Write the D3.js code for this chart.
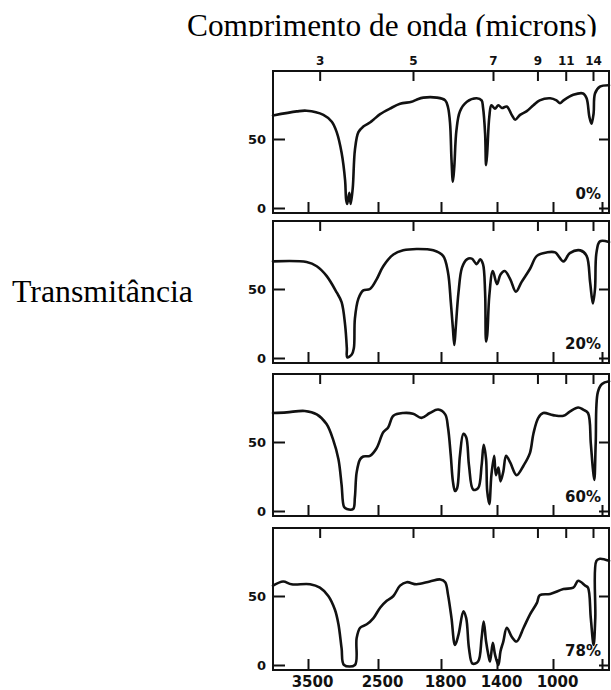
<!DOCTYPE html>
<html>
<head>
<meta charset="utf-8">
<script src="https://cdn.jsdelivr.net/npm/d3@7"></script>
<style>
  html, body { margin: 0; padding: 0; background: #fff; overflow: hidden; }
  svg { display: block; }
</style>
</head>
<body>
<svg id="chart" width="611" height="690"></svg>
<script>
// Infrared spectra recorded at four concentrations.
// Each point: [wavenumber in cm-1, transmittance in %].
const concentrationLabels = ["0%", "20%", "60%", "78%"];

const spectrum0 = [
  [4000,67],[3660,70],[3520,70.5],[3280,67.5],[3160,62.5],[3090,55],[3020,40],[2970,20],
  [2955,6],[2940,3],[2910,11],[2890,3],[2860,15],[2830,42],[2780,55],[2710,59],[2615,62],
  [2565,64],[2470,68],[2330,72],[2185,75.5],[2020,77],[1975,78.5],[1926,80],[1830,80],
  [1770,78],[1750,73],[1735,61],[1725,35],[1715,19],[1705,30],[1690,56],[1665,70],[1615,77],
  [1545,79.5],[1510,78],[1500,73],[1485,54],[1478,31],[1470,40],[1455,66],[1440,74.5],
  [1415,72],[1390,74.5],[1365,72.5],[1330,73.5],[1295,67.5],[1270,64],[1235,67.5],[1190,70],
  [1140,74.5],[1095,78],[1020,79.5],[975,78],[950,76],[925,78],[855,82],[785,83],[760,79.5],
  [740,66],[725,61],[710,68.5],[700,83],[665,88],[600,89]
];

const spectrum20 = [
  [4000,70],[3520,69.5],[3375,66.5],[3235,59.5],[3090,47.5],[3020,40.5],[2970,24],[2945,7],
  [2940,0.5],[2875,2.5],[2845,7],[2830,28.5],[2780,43],[2710,49],[2615,50],[2520,57],
  [2425,66.5],[2280,75],[2140,78],[1975,79],[1855,78],[1785,74],[1750,62],[1730,40.5],
  [1715,21.5],[1705,9.5],[1695,21.5],[1675,47.5],[1650,65.5],[1615,71.5],[1580,72],[1545,68],
  [1520,71.5],[1500,68],[1485,47.5],[1478,12],[1470,16.5],[1455,45],[1430,63],[1400,53.5],
  [1375,60.5],[1345,63],[1305,57],[1265,48],[1225,55],[1165,64.5],[1115,74],[1045,76.5],
  [985,76.5],[925,70],[880,76],[805,78],[760,74],[735,55],[715,39.5],[700,50],[690,76],
  [665,84.5],[600,84]
];

const spectrum60 = [
  [4000,71],[3805,71.5],[3545,72.5],[3375,70],[3235,63],[3140,51.5],[3065,37.5],[3020,19],
  [2985,3],[2945,1.5],[2855,1.5],[2830,10],[2805,28],[2755,37.5],[2710,39.5],[2615,40],
  [2520,45.5],[2425,57],[2355,60.5],[2280,69],[2140,71],[2000,70.5],[1940,67.5],[1880,71],
  [1820,73.5],[1770,70],[1750,60.5],[1730,40],[1715,21.5],[1700,14.5],[1685,16.5],[1665,40],
  [1640,56],[1620,53.5],[1600,33],[1570,15.5],[1535,16.5],[1510,33],[1495,48],[1478,37.5],
  [1470,14.5],[1455,5],[1440,26],[1420,40],[1408,26],[1390,31.5],[1375,21.5],[1355,28.5],
  [1335,40],[1305,35],[1260,26],[1210,33],[1165,42],[1140,56],[1105,67.5],[1070,71],
  [1000,69.5],[925,69],[880,72],[820,75],[785,73.5],[750,71],[730,49],[715,30.5],[705,22.5],
  [695,49],[680,86],[650,92],[600,94]
];

const spectrum78 = [
  [4000,57.5],[3855,60.5],[3735,58.5],[3470,58.5],[3330,56],[3210,50],[3115,40],[3065,29.5],
  [3020,12],[2985,0],[2830,0],[2805,19.5],[2755,27],[2660,29.5],[2565,34],[2470,41.5],
  [2375,46.5],[2280,50],[2185,57.5],[2090,60],[1975,58.5],[1880,60.5],[1805,62],[1770,60],
  [1750,51],[1725,34],[1700,14.5],[1675,22],[1640,39],[1620,34],[1600,12],[1575,1],[1535,2.5],
  [1510,19.5],[1495,31.5],[1478,17],[1462,7.5],[1450,2.5],[1430,16],[1414,7.5],[1390,0],
  [1375,10],[1355,17],[1330,27],[1295,20.5],[1260,17],[1210,27],[1165,36.5],[1115,45],
  [1095,50.5],[1020,51.5],[925,55],[855,56],[820,61],[770,57.5],[750,56],[730,34],[710,14.5],
  [698,34],[690,75.5],[665,77],[600,75.5]
];

const spectra = [spectrum0, spectrum20, spectrum60, spectrum78];

// Axis ticks: wavelength (microns) along the top, wavenumber (cm-1) along the bottom.
const micronTicks = [3, 5, 7, 9, 11, 14];
const wavenumberTicks = [3500, 2500, 1800, 1400, 1000, 650];
const wavenumberLabels = [3500, 2500, 1800, 1400, 1000];
const transmittanceTicks = [0, 50];

const titleText = "Comprimento de onda (microns)";
const yTitleText = "Transmitância";

// ---- layout ----
const svg = d3.select("#chart");
const left = 273, right = 609;
const panelTops = [71, 221, 374, 528];
const panelH = 142;
const ink = "#111";

// Grating spectrometer scale: the abscissa changes expansion at 2000 cm-1.
const x = d3.scaleLinear()
  .domain([4000, 2000, 600])
  .range([left, left + 140, right]);

// Title, clipped just under the baseline
svg.append("defs").append("clipPath").attr("id", "titleClip")
  .append("rect").attr("x", 0).attr("y", 0).attr("width", 611).attr("height", 36.5);

svg.append("text")
  .attr("clip-path", "url(#titleClip)")
  .attr("x", 187).attr("y", 36)
  .attr("font-family", "'Liberation Serif', 'Times New Roman', serif")
  .attr("font-size", 31)
  .attr("textLength", 410).attr("lengthAdjust", "spacingAndGlyphs")
  .attr("fill", "#000")
  .text(titleText);

svg.append("text")
  .attr("x", 12).attr("y", 302)
  .attr("font-family", "'Liberation Serif', 'Times New Roman', serif")
  .attr("font-size", 31.5)
  .attr("textLength", 181).attr("lengthAdjust", "spacingAndGlyphs")
  .attr("fill", "#000")
  .text(yTitleText);

const line = d3.line().curve(d3.curveCatmullRom.alpha(0.5));

const tickFont = "'DejaVu Sans', Verdana, sans-serif";

function styleAxis(g, fontSize) {
  g.select(".domain").remove();
  g.selectAll(".tick line").attr("stroke", ink).attr("stroke-width", 2);
  g.selectAll(".tick text")
    .attr("fill", ink)
    .attr("font-family", tickFont)
    .attr("font-weight", "bold")
    .attr("font-size", fontSize);
}

spectra.forEach((data, i) => {
  const top = panelTops[i];
  const bottom = top + panelH;
  const y = d3.scaleLinear().domain([0, 100]).range([top + 137, top - 1]);
  const g = svg.append("g");

  // top axis: wavelength ticks (labelled on the first panel only)
  g.append("g")
    .attr("transform", `translate(0,${top})`)
    .call(d3.axisTop(x)
      .tickValues(micronTicks.map(m => 10000 / m))
      .tickFormat((d, k) => i === 0 ? String(micronTicks[k]) : "")
      .tickSizeInner(-10).tickSizeOuter(0).tickPadding(6))
    .call(a => styleAxis(a, 12));

  // bottom axis: wavenumber ticks (labelled on the last panel only)
  g.append("g")
    .attr("transform", `translate(0,${bottom})`)
    .call(d3.axisBottom(x)
      .tickValues(wavenumberTicks)
      .tickFormat(d => (i === spectra.length - 1 && wavenumberLabels.includes(d)) ? String(d) : "")
      .tickSizeInner(-11).tickSizeOuter(0).tickPadding(6))
    .call(a => styleAxis(a, 15))
    .call(a => a.selectAll(".tick text").attr("dx", 4));

  // left axis: transmittance
  g.append("g")
    .attr("transform", `translate(${left},0)`)
    .call(d3.axisLeft(y)
      .tickValues(transmittanceTicks)
      .tickSizeInner(-12).tickSizeOuter(0).tickPadding(7))
    .call(a => styleAxis(a, 13));

  // right axis: unlabelled ticks
  g.append("g")
    .attr("transform", `translate(${right},0)`)
    .call(d3.axisRight(y)
      .tickValues(transmittanceTicks)
      .tickFormat("")
      .tickSizeInner(-10).tickSizeOuter(0))
    .call(a => styleAxis(a, 13));

  // frame
  g.append("rect")
    .attr("x", left).attr("y", top)
    .attr("width", right - left).attr("height", panelH)
    .attr("fill", "none").attr("stroke", ink).attr("stroke-width", 2);

  // spectrum trace
  g.append("path")
    .datum(data)
    .attr("fill", "none")
    .attr("stroke", ink)
    .attr("stroke-width", 2.6)
    .attr("stroke-linejoin", "round")
    .attr("stroke-linecap", "round")
    .attr("d", line.x(d => x(d[0])).y(d => y(d[1])));

  // concentration label
  g.append("text")
    .attr("x", 601).attr("y", y(0) - 9)
    .attr("text-anchor", "end")
    .attr("font-family", tickFont)
    .attr("font-weight", "bold")
    .attr("font-size", 15)
    .attr("fill", ink)
    .text(concentrationLabels[i]);
});
</script>
</body>
</html>
